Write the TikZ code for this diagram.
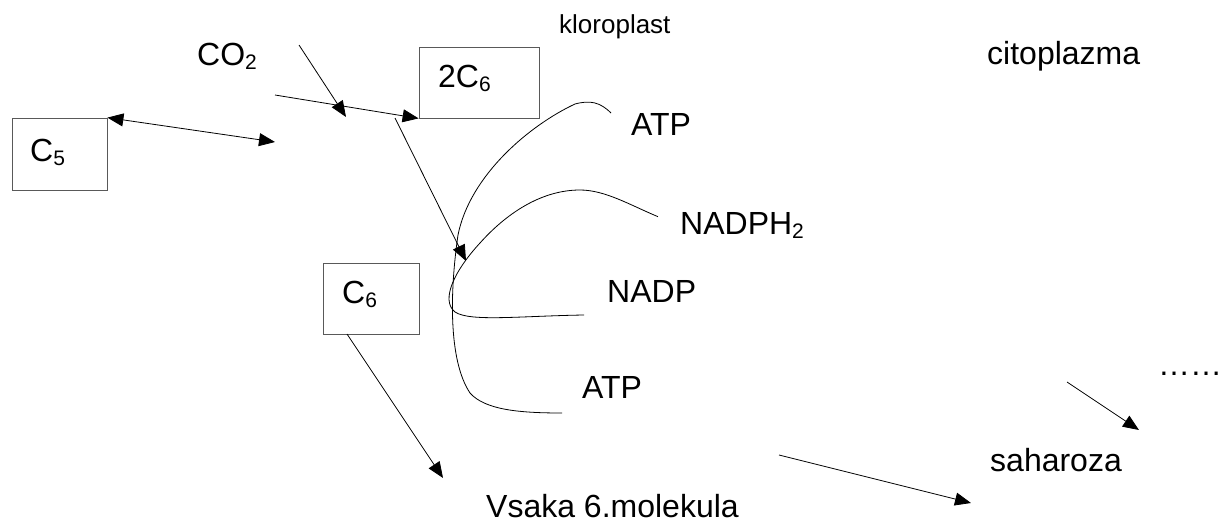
\documentclass[tikz,border=0pt]{standalone}
\usepackage{fontspec}
\setmainfont{Liberation Sans}
\usetikzlibrary{arrows.meta}
\tikzset{
  box/.style={draw=black!65, line width=0.8pt, inner sep=0pt},
  lbl/.style={anchor=base west, inner sep=0pt, font=\fontsize{32}{34}\selectfont},
  small/.style={anchor=base west, inner sep=0pt, font=\fontsize{26}{28}\selectfont},
  arr/.style={line width=0.8pt, -{Triangle[length=16pt,width=13pt]}},
  darr/.style={line width=0.8pt, {Triangle[length=16pt,width=13pt]}-{Triangle[length=16pt,width=13pt]}},
  crv/.style={line width=0.8pt}
}
\newcommand{\sbs}[1]{\raisebox{-0.15em}{\fontsize{21}{22}\selectfont #1}}
\begin{document}
\begin{tikzpicture}[x=1pt,y=-1pt]
\useasboundingbox (0,0) rectangle (1227,522);
% boxes
\node[box, minimum width=95pt, minimum height=72pt] (c5box) at (59.5,154) {};
\node[box, minimum width=120pt, minimum height=71pt] (c26box) at (479,82.5) {};
\node[box, minimum width=96pt, minimum height=71pt] (c6box) at (371,298.5) {};
% labels
\node[lbl] (c5) at (30,161) {C\sbs{5}};
\node[lbl] (c26) at (438,87) {2C\sbs{6}};
\node[lbl] (c6) at (342,303) {C\sbs{6}};
\node[lbl] (co2) at (197,65) {CO\sbs{2}};
\node[small] (klor) at (559,33) {kloroplast};
\node[lbl] (cito) at (987,64) {citoplazma};
\node[lbl] (atp1) at (631,135) {ATP};
\node[lbl] (nadph) at (680,234) {NADPH\sbs{2}};
\node[lbl] (nadp) at (607,302) {NADP};
\node[lbl] (atp2) at (582,398) {ATP};
\node[lbl] (dots) at (1158,375) {……};
\node[lbl] (sah) at (990,471) {saharoza};
\node[lbl] (vsaka) at (486,517) {Vsaka 6.molekula};
% free ends
\coordinate (c5end) at (275,142);
\coordinate (co2s) at (299,45);
\coordinate (co2e) at (346,117);
\coordinate (in2s) at (275,95);
\coordinate (d1s) at (395,118);
\coordinate (d1e) at (466,261);
\coordinate (c6s) at (347,334);
\coordinate (c6e) at (443,478);
\coordinate (s1s) at (779,455);
\coordinate (s1e) at (971,503);
\coordinate (s2s) at (1067,382);
\coordinate (s2e) at (1139,430);
% connectors
\draw[darr] (c5box.north east) -- (c5end);
\draw[arr] (co2s) -- (co2e);
\draw[arr] (in2s) -- (c26box.south west);
\draw[arr] (d1s) -- (d1e);
\draw[arr] (c6s) -- (c6e);
\draw[arr] (s1s) -- (s1e);
\draw[arr] (s2s) -- (s2e);
% curves
\draw[crv] (611,113) .. controls (600,102) and (590,100) .. (575,104)
  .. controls (530,125) and (470,175) .. (458,235)
  .. controls (450,290) and (448,360) .. (470,393)
  .. controls (485,410) and (520,413) .. (562,413);
\draw[crv] (658,216.7) .. controls (630,205) and (605,190) .. (580,190)
  .. controls (540,190) and (505,215) .. (480,243)
  .. controls (455,270) and (440,300) .. (455,312)
  .. controls (470,322) and (520,316) .. (584,315);
\end{tikzpicture}
\end{document}
